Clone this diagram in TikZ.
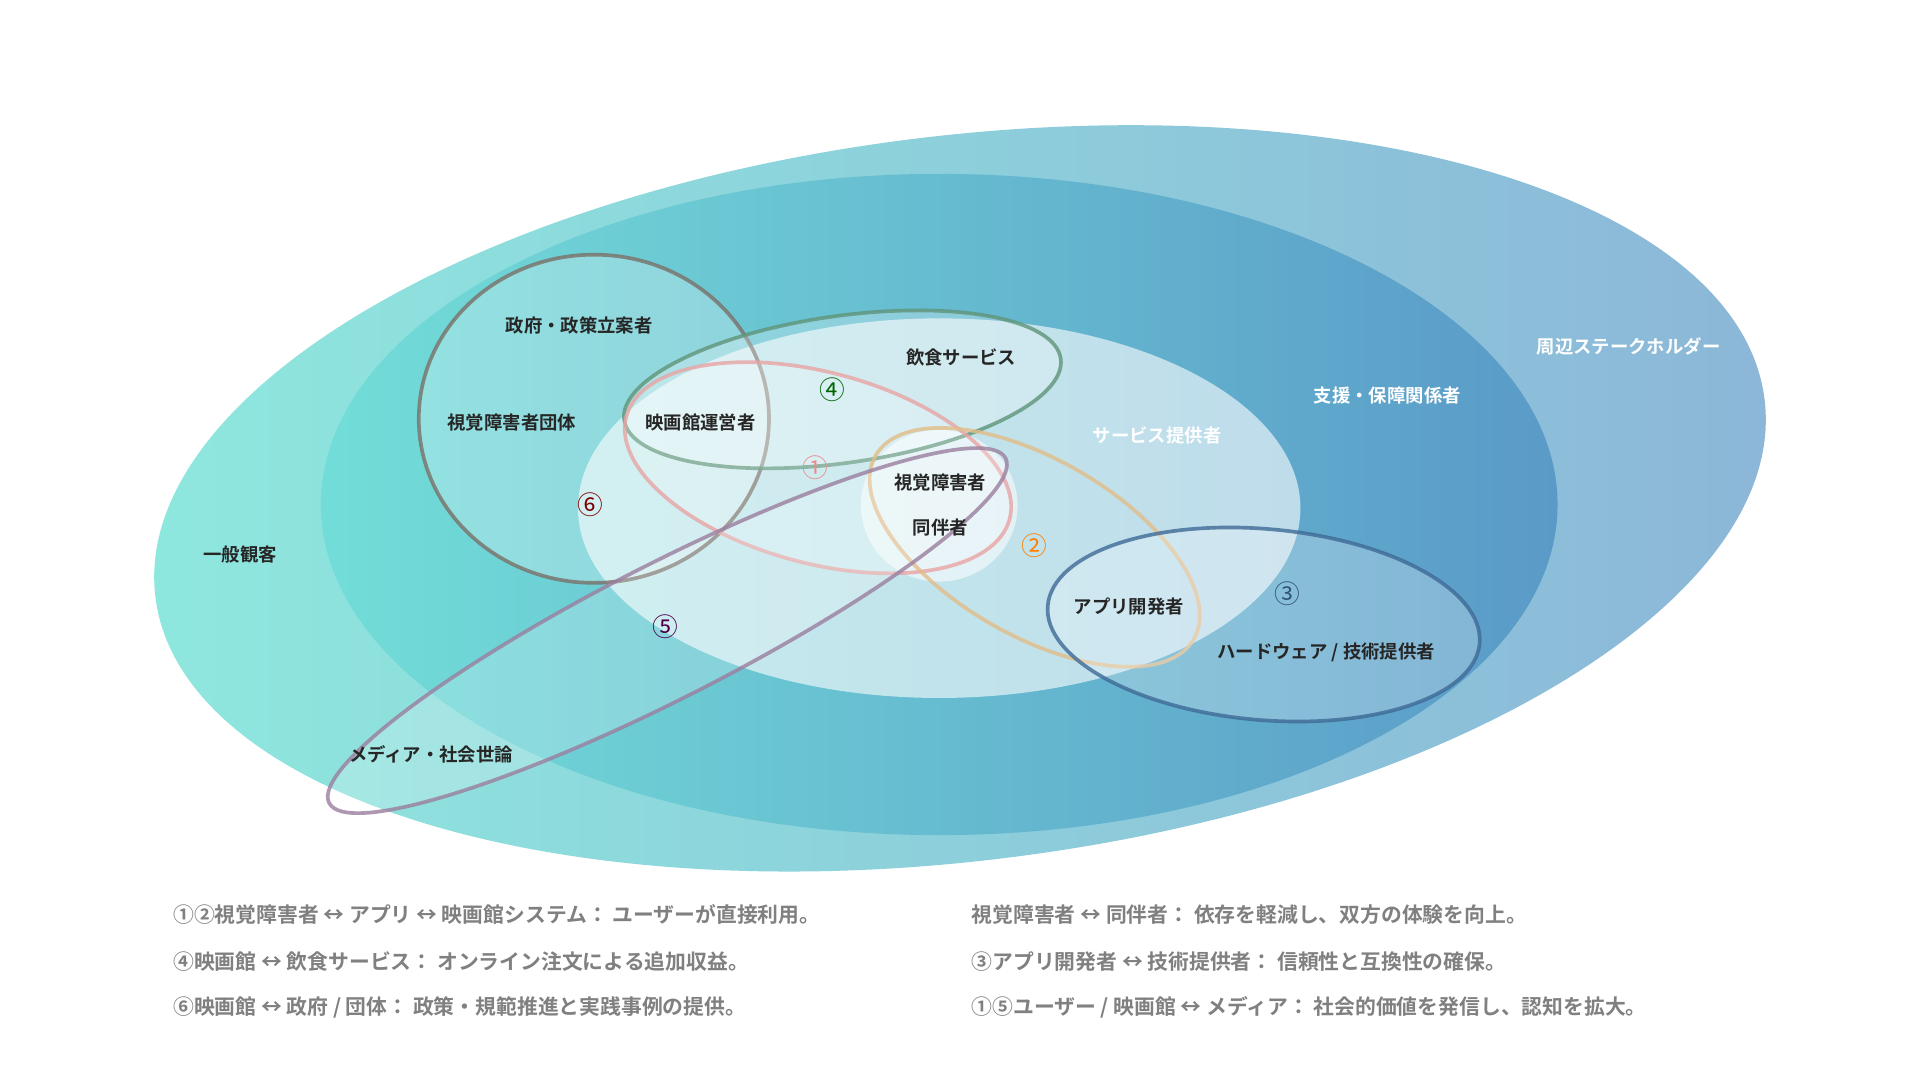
\documentclass[tikz,border=0pt]{standalone}
\usepackage{fontspec}
\setmainfont{Noto Sans CJK JP}
\newfontfamily\jpb{Noto Sans CJK JP}[BoldFont={* Bold}]
\usetikzlibrary{shapes.geometric}
\definecolor{oL}{HTML}{8EE8DE}
\definecolor{oR}{HTML}{8CB6D8}
\definecolor{mL}{HTML}{72DDD8}
\definecolor{mR}{HTML}{5A9AC8}
\definecolor{c6}{HTML}{7A7068}
\definecolor{c4}{HTML}{5E9478}
\definecolor{c1}{HTML}{E8A4A4}
\definecolor{c2}{HTML}{E2BC88}
\definecolor{c3}{HTML}{3E6A96}
\definecolor{c5}{HTML}{9A7E9E}
\begin{document}
\begin{tikzpicture}[x=1pt,y=1pt,
  lab/.style={font=\jpb\bfseries\fontsize{15}{18}\selectfont,text=black!85},
  wlab/.style={font=\jpb\bfseries\fontsize{15}{18}\selectfont,text=white},
  num/.style={font=\jpb\fontsize{21}{22}\selectfont},
  note/.style={font=\jpb\bfseries\fontsize{17}{20}\selectfont,text=black!50,anchor=west},
  ring/.style={line width=3pt,draw opacity=0.8}]
\useasboundingbox (0,0) rectangle (1568,-882);
\fill[white] (0,0) rectangle (1568,-882);
\shade[left color=oL, right color=oR, rotate around={7:(784,-407)}] (784,-407) ellipse [x radius=662, y radius=296];
\shade[left color=mL, right color=mR] (767,-412) ellipse [x radius=505, y radius=270];
\fill[white,opacity=0.6] (767,-415) ellipse [x radius=295, y radius=155];
\fill[white,opacity=0.55] (767,-413) ellipse [x radius=64, y radius=62];
\node[draw=c6, ring, fill=white, fill opacity=0.25, ellipse, minimum width=286, minimum height=268, inner sep=0] (r6) at (485,-342) {};
\draw[draw=c4, ring, fill=white, fill opacity=0.25, rotate around={8:(688,-318)}] (688,-318) ellipse [x radius=180, y radius=60];
\draw[draw=c1, ring, fill=white, fill opacity=0.2, rotate around={-15:(668,-382)}] (668,-382) ellipse [x radius=162, y radius=78];
\draw[draw=c2, ring, rotate around={-30:(845,-447)}] (845,-447) ellipse [x radius=150, y radius=72];
\draw[draw=c3, ring, fill=white, fill opacity=0.25, rotate around={-5:(1032,-510)}] (1032,-510) ellipse [x radius=177, y radius=78];
\draw[draw=c5, ring, fill=white, fill opacity=0.2, rotate around={27:(545,-515)}] (545,-515) ellipse [x radius=310, y radius=55];
\node[wlab] (l1) at (1330,-283) {周辺ステークホルダー};
\node[wlab] (l2) at (1133,-323) {支援・保障関係者};
\node[wlab] (l3) at (945,-356) {サービス提供者};
\node[lab] (a1) at (473,-266) {政府・政策立案者};
\node[lab] (a2) at (418,-345) {視覚障害者団体};
\node[lab] (a3) at (572,-345) {映画館運営者};
\node[lab] (a4) at (785,-292) {飲食サービス};
\node[lab] (a5) at (768,-394) {視覚障害者};
\node[lab] (a6) at (768,-431) {同伴者};
\node[lab] (a7) at (922,-495) {アプリ開発者};
\node[lab] (a8) at (1083,-533) {ハードウェア / 技術提供者};
\node[lab] (a9) at (352,-616) {メディア・社会世論};
\node[lab] (a10) at (196,-453) {一般観客};
\node[num,text=c1!85!red] (n1) at (666,-382) {①};
\node[num,text=orange] (n2) at (845,-446) {②};
\node[num,text=c3!80!black] (n3) at (1051,-485) {③};
\node[num,text=green!40!black] (n4) at (680,-318) {④};
\node[num,text=violet!60!black] (n5) at (543,-512) {⑤};
\node[num,text=red!50!black] (n6) at (482,-412) {⑥};
\node[note] (t1) at (138,-747) {①②視覚障害者 ↔ アプリ ↔ 映画館システム： ユーザーが直接利用。};
\node[note] (t2) at (138,-785) {④映画館 ↔ 飲食サービス： オンライン注文による追加収益。};
\node[note] (t3) at (138,-823) {⑥映画館 ↔ 政府 / 団体： 政策・規範推進と実践事例の提供。};
\node[note] (t4) at (790,-747) {視覚障害者 ↔ 同伴者： 依存を軽減し、双方の体験を向上。};
\node[note] (t5) at (790,-785) {③アプリ開発者 ↔ 技術提供者： 信頼性と互換性の確保。};
\node[note] (t6) at (790,-823) {①⑤ユーザー / 映画館 ↔ メディア： 社会的価値を発信し、認知を拡大。};
\end{tikzpicture}
\end{document}
